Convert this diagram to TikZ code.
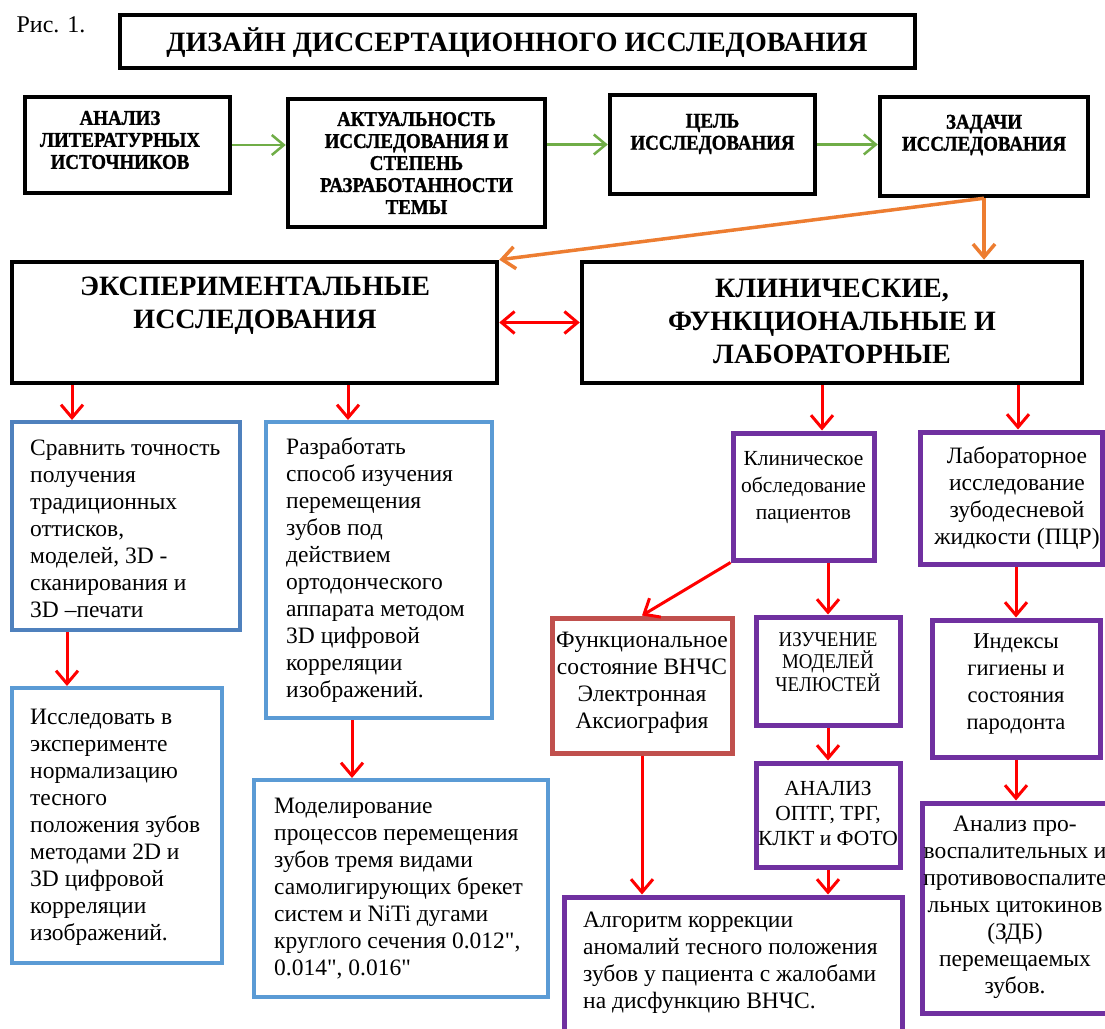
\documentclass[tikz,border=0pt]{standalone}
\usepackage{fontspec}
\setmainfont{Liberation Serif}
\newfontfamily\narrowfont[FakeStretch=0.9, BoldFeatures={FakeBold=1.2}]{Liberation Serif}
\usetikzlibrary{arrows.meta}

\definecolor{lnkgreen}{HTML}{70AD47}
\definecolor{lnkorange}{HTML}{ED7D31}
\definecolor{lnkred}{HTML}{FF0000}
\definecolor{boxblue}{HTML}{5B9BD5}
\definecolor{boxsteel}{HTML}{4F81BD}
\definecolor{boxpurple}{HTML}{7030A0}
\definecolor{boxbrick}{HTML}{C0504D}

\tikzset{
  blkbox/.style={draw=black, line width=4.5pt, inner sep=0pt},
  bluebox/.style={draw=boxblue, line width=4pt, inner sep=0pt},
  purpbox/.style={draw=boxpurple, line width=5pt, inner sep=0pt},
  brickbox/.style={draw=boxbrick, line width=5pt, inner sep=0pt},
  headtxt/.style={font=\fontsize{28}{33}\selectfont\bfseries, align=center, inner sep=0pt},
  rowtxt/.style={font=\narrowfont\bfseries\fontsize{21}{22}\selectfont, align=center, inner sep=0pt},
  bodytxt/.style={font=\fontsize{23.5}{27}\selectfont, inner sep=0pt},
  narrowtxt/.style={font=\narrowfont\fontsize{21}{22}\selectfont, align=center, inner sep=0pt},
  grarr/.style={draw=lnkgreen, line width=2.5pt, -{Straight Barb[length=12pt,width=20pt]}},
  orarr/.style={draw=lnkorange, line width=3.5pt, -{Straight Barb[length=13pt,width=22pt]}},
  redarr/.style={draw=lnkred, line width=3pt, -{Straight Barb[length=13pt,width=22pt]}}
}

\begin{document}
\begin{tikzpicture}[x=1pt,y=-1pt]
	\useasboundingbox (0,0) rectangle (1105,1028);

	% title
	\node[bodytxt, font=\fontsize{24}{28}\selectfont] (fig) at (51,25) {Рис. 1.};
	\node[blkbox, minimum width=795pt, minimum height=53pt] (title) at (517.5,41.5) {};
	\node[headtxt] (titletxt) at (517,43) {ДИЗАЙН ДИССЕРТАЦИОННОГО ИССЛЕДОВАНИЯ};

	% top row
	\node[blkbox, minimum width=205pt, minimum height=96pt] (lit) at (127.5,145) {};
	\node[blkbox, minimum width=257pt, minimum height=128pt] (akt) at (416.5,163) {};
	\node[blkbox, minimum width=205pt, minimum height=99pt] (cel) at (712.5,144.5) {};
	\node[blkbox, minimum width=208pt, minimum height=99pt] (zad) at (984,146.5) {};
	\node[rowtxt] (littxt) at (120,140) {АНАЛИЗ\\ЛИТЕРАТУРНЫХ\\ИСТОЧНИКОВ};
	\node[rowtxt] (akttxt) at (416.5,163) {АКТУАЛЬНОСТЬ\\ИССЛЕДОВАНИЯ И\\СТЕПЕНЬ\\РАЗРАБОТАННОСТИ\\ТЕМЫ};
	\node[rowtxt] (celtxt) at (712.5,134) {ЦЕЛЬ\\ИССЛЕДОВАНИЯ};
	\node[rowtxt] (zadtxt) at (984,135) {ЗАДАЧИ\\ИССЛЕДОВАНИЯ};

	\draw[grarr] (lit.east) -- (lit.east -| akt.west);
	\draw[grarr] (akt.east |- cel.west) -- (cel.west);
	\draw[grarr] (cel.east) -- (cel.east -| zad.west);

	% two branches
	\node[blkbox, minimum width=485pt, minimum height=121pt] (exper) at (254.5,322.5) {};
	\node[blkbox, minimum width=500pt, minimum height=121pt] (klin) at (832,322.5) {};
	\node[headtxt] (expertxt) at (255,306) {ЭКСПЕРИМЕНТАЛЬНЫЕ\\ИССЛЕДОВАНИЯ};
	\node[headtxt] (klintxt) at (832,321) {КЛИНИЧЕСКИЕ,\\ФУНКЦИОНАЛЬНЫЕ И\\ЛАБОРАТОРНЫЕ};

	\draw[orarr] (zad.south) -- (exper.north east);
	\draw[orarr] (zad.south) -- (zad.south |- klin.north);
	\draw[redarr, {Straight Barb[length=13pt,width=22pt]}-{Straight Barb[length=13pt,width=22pt]}] (exper.east) -- (klin.west);

	% experimental part
	\node[bluebox, draw=boxsteel, minimum width=228pt, minimum height=208pt] (srav) at (126,526) {};
	\node[bluebox, minimum width=226pt, minimum height=296pt] (razr) at (379,570) {};
	\node[bluebox, minimum width=210pt, minimum height=275pt] (issl) at (117,825.5) {};
	\node[bluebox, minimum width=294pt, minimum height=217pt] (model) at (401,888.5) {};
	\node[bodytxt, align=left, anchor=west] (sravtxt) at (30,529) {Сравнить точность\\получения\\традиционных\\оттисков,\\моделей, 3D -\\сканирования и\\3D –печати};
	\node[bodytxt, align=left, anchor=west] (razrtxt) at (286,570) {Разработать\\способ изучения\\перемещения\\зубов под\\действием\\ортодонческого\\аппарата методом\\3D цифровой\\корреляции\\изображений.};
	\node[bodytxt, align=left, anchor=west] (issltxt) at (30,827) {Исследовать в\\эксперименте\\нормализацию\\тесного\\положения зубов\\методами 2D и\\3D цифровой\\корреляции\\изображений.};
	\node[bodytxt, align=left, anchor=west] (modeltxt) at (274,889) {Моделирование\\процессов перемещения\\зубов тремя видами\\самолигирующих брекет\\систем и NiTi дугами\\круглого сечения 0.012\textquotedbl,\\0.014\textquotedbl, 0.016\textquotedbl};

	\draw[redarr] ([xshift=-182.5pt]exper.south) -- ([xshift=-54pt]srav.north);
	\draw[redarr] ([xshift=93.5pt]exper.south) -- ([xshift=-31pt]razr.north);
	\draw[redarr] ([xshift=-59pt]srav.south) -- ([xshift=-50pt]issl.north);
	\draw[redarr] ([xshift=-27pt]razr.south) -- ([xshift=-49pt]model.north);

	% clinical part
	\node[purpbox, minimum width=141pt, minimum height=127pt] (klobs) at (803.5,496.5) {};
	\node[purpbox, minimum width=182pt, minimum height=132pt] (labor) at (1011,498) {};
	\node[brickbox, minimum width=180pt, minimum height=135pt] (funk) at (642,685.5) {};
	\node[purpbox, minimum width=144pt, minimum height=108pt] (izuch) at (828,671) {};
	\node[purpbox, minimum width=144pt, minimum height=104pt] (anal) at (828,815) {};
	\node[purpbox, minimum width=168pt, minimum height=137pt] (indx) at (1016,688.5) {};
	\node[purpbox, minimum width=338pt, minimum height=143pt] (algo) at (733,968.5) {};
	\node[purpbox, minimum width=198pt, minimum height=210pt] (cito) at (1021,908) {};
	\node[bodytxt, align=center, font=\fontsize{21.5}{27}\selectfont] (klobstxt) at (803.5,488) {Клиническое\\обследование\\пациентов};
	\node[bodytxt, align=center] (labortxt) at (1017,498) {Лабораторное\\исследование\\зубодесневой\\жидкости (ПЦР)};
	\node[bodytxt, align=center] (funktxt) at (642,683) {Функциональное\\состояние ВНЧС\\Электронная\\Аксиография};
	\node[narrowtxt] (izuchtxt) at (828,662) {ИЗУЧЕНИЕ\\МОДЕЛЕЙ\\ЧЕЛЮСТЕЙ};
	\node[bodytxt, align=center, font=\fontsize{21.5}{25}\selectfont] (analtxt) at (828,813) {АНАЛИЗ\\ОПТГ, ТРГ,\\КЛКТ и ФОТО};
	\node[bodytxt, align=center, font=\fontsize{22.5}{27}\selectfont] (indxtxt) at (1016,684) {Индексы\\гигиены и\\состояния\\пародонта};
	\node[bodytxt, align=left, anchor=west] (algotxt) at (583,963) {Алгоритм коррекции\\аномалий тесного положения\\зубов у пациента с жалобами\\на дисфункцию ВНЧС.};
	\node[bodytxt, align=center] (citotxt) at (1015,907) {Анализ про-\\воспалительных и\\противовоспалите\\льных цитокинов\\(ЗДБ)\\перемещаемых\\зубов.};

	\draw[redarr] ([xshift=-10pt]klin.south) -- ([xshift=18.5pt]klobs.north);
	\draw[redarr] ([xshift=186pt]klin.south) -- ([xshift=7pt]labor.north);
	\draw[redarr] (klobs.south west) -- (funk.north);
	\draw[redarr] (izuch.north |- klobs.south) -- (izuch.north);
	\draw[redarr] (izuch.south) -- (anal.north);
	\draw[redarr] (anal.south) -- (anal.south |- algo.north);
	\draw[redarr] (funk.south) -- (funk.south |- algo.north);
	\draw[redarr] (indx.north |- labor.south) -- (indx.north);
	\draw[redarr] (indx.south) -- (indx.south |- cito.north);
\end{tikzpicture}
\end{document}
